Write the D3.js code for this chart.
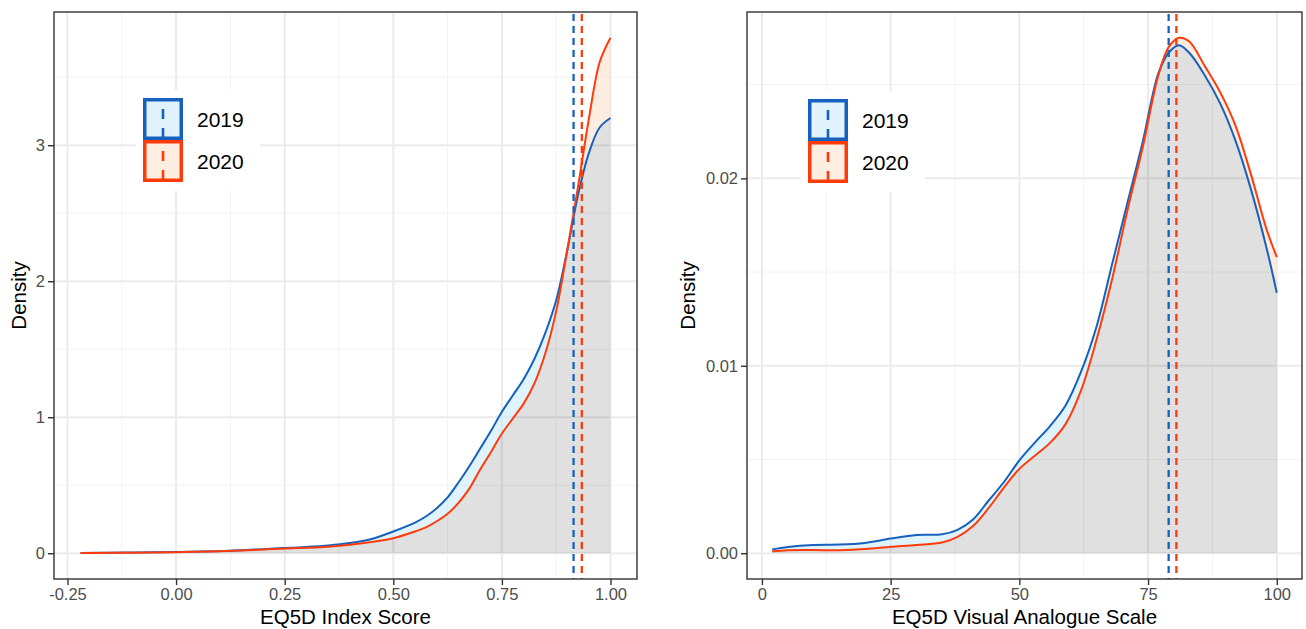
<!DOCTYPE html>
<html>
<head>
<meta charset="utf-8">
<script src="https://cdn.jsdelivr.net/npm/d3@7"></script>
<style>
  body { margin: 0; background: #fff; }
  text { font-family: "Liberation Sans", Arial, Helvetica, sans-serif; }
</style>
</head>
<body>
<div id="chart"></div>
<script>
// EQ5D index score: density estimates
const indexX = [-0.22, -0.15, -0.1, -0.05, 0, 0.05, 0.1, 0.15, 0.2, 0.25, 0.3, 0.35, 0.4, 0.45, 0.5, 0.55, 0.575,
    0.6, 0.625, 0.65, 0.675, 0.7, 0.725, 0.75, 0.775, 0.8, 0.825, 0.85, 0.875, 0.9, 0.925, 0.95, 0.975, 1.0];
const index2019 = [0.002, 0.004, 0.005, 0.007, 0.009, 0.012, 0.016, 0.022, 0.03, 0.038, 0.046, 0.057, 0.075, 0.105, 0.16, 0.225, 0.27,
    0.33, 0.41, 0.52, 0.64, 0.77, 0.9, 1.04, 1.16, 1.28, 1.43, 1.62, 1.86, 2.22, 2.63, 2.94, 3.13, 3.2];
const index2020 = [0.001, 0.003, 0.004, 0.006, 0.008, 0.011, 0.015, 0.02, 0.027, 0.034, 0.04, 0.048, 0.062, 0.083, 0.11, 0.16, 0.19,
    0.235, 0.29, 0.37, 0.475, 0.615, 0.745, 0.88, 0.99, 1.1, 1.25, 1.47, 1.78, 2.22, 2.69, 3.19, 3.61, 3.79];
const indexMeans = [0.915, 0.934];
const indexTicks = [-0.25, 0, 0.25, 0.5, 0.75, 1];
const indexTickLabels = ["-0.25", "0.00", "0.25", "0.50", "0.75", "1.00"];
const indexDensTicks = [0, 1, 2, 3];
const indexDensLabels = ["0", "1", "2", "3"];

// EQ5D visual analogue scale
const vasX = [2, 5, 10, 15, 20, 25, 30, 35, 38, 41, 44, 47, 50, 53, 56, 59, 62, 65, 68, 71, 74, 77, 79, 81, 83, 86, 89, 92, 95, 98, 100];
const vas2019 = [0.0002, 0.00033, 0.00044, 0.00046, 0.00055, 0.00078, 0.00097, 0.00101, 0.00125, 0.0018, 0.0028, 0.0038, 0.00495,
    0.0059, 0.0068, 0.0079, 0.0097, 0.0121, 0.0154, 0.0187, 0.022, 0.0256, 0.0267, 0.0271, 0.0267, 0.0255, 0.024, 0.022, 0.0194, 0.0163, 0.0139];
const vas2020 = [0.0001, 0.00016, 0.00017, 0.00016, 0.00022, 0.00034, 0.00044, 0.00057, 0.00087, 0.00145, 0.0024, 0.0035, 0.0045,
    0.0052, 0.0059, 0.0069, 0.0087, 0.0114, 0.0146, 0.0183, 0.0217, 0.0255, 0.027, 0.0275, 0.0273, 0.026, 0.0246, 0.0228, 0.0202, 0.0173, 0.0158];
const vasMeans = [79.0, 80.5];
const vasTicks = [0, 25, 50, 75, 100];
const vasTickLabels = ["0", "25", "50", "75", "100"];
const vasDensTicks = [0, 0.01, 0.02];
const vasDensLabels = ["0.00", "0.01", "0.02"];

const years = ["2019", "2020"];
const lineColors = ["#1561bd", "#ff3b0c"];
const keyFills = ["#e0f3fc", "#fdeee1"];
const softFills = ["#c0e8fa", "#fbdcc2"];

const width = 1306, height = 629;

const svg = d3.select("#chart").append("svg")
    .attr("width", width)
    .attr("height", height)
    .style("background", "#fff");

function minorTicks(ticks, domain) {
    const step = ticks[1] - ticks[0];
    const out = [];
    for (let t = ticks[0] - step / 2; t <= domain[1]; t += step) {
        if (t >= domain[0]) out.push(t);
    }
    return out;
}

function drawPanel(cfg, id) {
    const xExt = d3.extent(cfg.xs);
    const xPad = (xExt[1] - xExt[0]) * 0.05;
    const yMax = d3.max(cfg.series.flat());
    const x = d3.scaleLinear().domain([xExt[0] - xPad, xExt[1] + xPad]).range([cfg.left, cfg.right]);
    const y = d3.scaleLinear().domain([-0.05 * yMax, 1.05 * yMax]).range([cfg.bottom, cfg.top]);

    const g = svg.append("g");
    const defs = g.append("defs");

    // grid
    const grid = g.append("g");
    grid.selectAll(".minx").data(minorTicks(cfg.xTicks, x.domain())).enter().append("line")
        .attr("x1", d => x(d)).attr("x2", d => x(d)).attr("y1", cfg.top).attr("y2", cfg.bottom)
        .attr("stroke", "#f2f2f2").attr("stroke-width", 1);
    grid.selectAll(".miny").data(minorTicks(cfg.yTicks, y.domain())).enter().append("line")
        .attr("y1", d => y(d)).attr("y2", d => y(d)).attr("x1", cfg.left).attr("x2", cfg.right)
        .attr("stroke", "#f2f2f2").attr("stroke-width", 1);
    grid.selectAll(".majx").data(cfg.xTicks).enter().append("line")
        .attr("x1", d => x(d)).attr("x2", d => x(d)).attr("y1", cfg.top).attr("y2", cfg.bottom)
        .attr("stroke", "#ebebeb").attr("stroke-width", 2);
    grid.selectAll(".majy").data(cfg.yTicks).enter().append("line")
        .attr("y1", d => y(d)).attr("y2", d => y(d)).attr("x1", cfg.left).attr("x2", cfg.right)
        .attr("stroke", "#ebebeb").attr("stroke-width", 2);

    const pts = cfg.series.map(s => cfg.xs.map((v, i) => [v, s[i]]));
    const curve = d3.curveCatmullRom.alpha(0.5);
    const area = d3.area().x(d => x(d[0])).y0(y(0)).y1(d => y(d[1])).curve(curve);
    const line = d3.line().x(d => x(d[0])).y(d => y(d[1])).curve(curve);

    pts.forEach((p, i) => {
        defs.append("clipPath").attr("id", `${id}-clip${i}`)
            .append("path").attr("d", area(p));
    });

    // where one year is above the other: light tint of that year
    const xorPath = area(pts[0]) + area(pts[1]);
    pts.forEach((p, i) => {
        g.append("g").attr("clip-path", `url(#${id}-clip${i})`)
            .append("path")
            .attr("d", xorPath)
            .attr("fill-rule", "evenodd")
            .attr("fill", softFills[i])
            .attr("fill-opacity", 0.5);
    });

    // shared part in grey
    g.append("g").attr("clip-path", `url(#${id}-clip1)`)
        .append("path")
        .attr("d", area(pts[0]))
        .attr("fill", "#000")
        .attr("fill-opacity", 0.12);

    pts.forEach((p, i) => {
        g.append("path")
            .attr("d", line(p))
            .attr("fill", "none")
            .attr("stroke", lineColors[i])
            .attr("stroke-width", 2);
    });

    // mean lines
    g.selectAll(".mean").data(cfg.means).enter().append("line")
        .attr("x1", d => x(d)).attr("x2", d => x(d))
        .attr("y1", cfg.top + 2).attr("y2", cfg.bottom)
        .attr("stroke", (d, i) => lineColors[i])
        .attr("stroke-width", 2.3)
        .attr("stroke-dasharray", "7,5");

    // legend
    const lg = g.append("g");
    lg.append("rect")
        .attr("x", cfg.legendX - 7).attr("y", cfg.legendY - 8)
        .attr("width", 124).attr("height", 101)
        .attr("fill", "#fff");
    years.forEach((yr, i) => {
        const ky = cfg.legendY + i * 42;
        lg.append("rect")
            .attr("x", cfg.legendX + 1.75).attr("y", ky + 1.75)
            .attr("width", 36.5).attr("height", 38.5)
            .attr("fill", keyFills[i])
            .attr("stroke", lineColors[i])
            .attr("stroke-width", 3.5);
        lg.append("line")
            .attr("x1", cfg.legendX + 20).attr("x2", cfg.legendX + 20)
            .attr("y1", ky).attr("y2", ky + 42)
            .attr("stroke", lineColors[i])
            .attr("stroke-width", 2.6)
            .attr("stroke-dasharray", "0,11,10,9,9,100");
        lg.append("text")
            .attr("x", cfg.legendX + 54).attr("y", ky + 21)
            .attr("dy", "0.36em")
            .attr("font-size", 21)
            .attr("fill", "#000")
            .text(yr);
    });

    // border
    g.append("rect")
        .attr("x", cfg.left).attr("y", cfg.top)
        .attr("width", cfg.right - cfg.left).attr("height", cfg.bottom - cfg.top)
        .attr("fill", "none").attr("stroke", "#333").attr("stroke-width", 1.4);

    // axes
    const xAxis = g.append("g").attr("transform", `translate(0,${cfg.bottom})`)
        .call(d3.axisBottom(x).tickValues(cfg.xTicks).tickFormat((d, i) => cfg.xLabels[i]).tickSize(6).tickPadding(3));
    const yAxis = g.append("g").attr("transform", `translate(${cfg.left},0)`)
        .call(d3.axisLeft(y).tickValues(cfg.yTicks).tickFormat((d, i) => cfg.yLabels[i]).tickSize(6).tickPadding(3));
    [xAxis, yAxis].forEach(a => {
        a.select(".domain").remove();
        a.selectAll(".tick line").attr("stroke", "#333").attr("stroke-width", 1.4);
        a.selectAll(".tick text").attr("fill", "#4d4d4d").attr("font-size", 16.5)
            .style("font-family", "'Liberation Sans', Arial, sans-serif");
    });

    g.append("text")
        .attr("x", (cfg.left + cfg.right) / 2).attr("y", 624)
        .attr("text-anchor", "middle")
        .attr("font-size", 20.5)
        .attr("fill", "#000")
        .text(cfg.xTitle);
    g.append("text")
        .attr("transform", `translate(${cfg.yTitleX},${(cfg.top + cfg.bottom) / 2}) rotate(-90)`)
        .attr("text-anchor", "middle")
        .attr("dy", "0.36em")
        .attr("font-size", 20.5)
        .attr("fill", "#000")
        .text("Density");
}

drawPanel({
    left: 54, right: 637, top: 12, bottom: 579,
    xs: indexX, series: [index2019, index2020], means: indexMeans,
    xTicks: indexTicks, xLabels: indexTickLabels,
    yTicks: indexDensTicks, yLabels: indexDensLabels,
    xTitle: "EQ5D Index Score", yTitleX: 19,
    legendX: 143, legendY: 98
}, "idx");

drawPanel({
    left: 747, right: 1302, top: 12, bottom: 579,
    xs: vasX, series: [vas2019, vas2020], means: vasMeans,
    xTicks: vasTicks, xLabels: vasTickLabels,
    yTicks: vasDensTicks, yLabels: vasDensLabels,
    xTitle: "EQ5D Visual Analogue Scale", yTitleX: 688,
    legendX: 808, legendY: 99
}, "vas");
</script>
</body>
</html>
